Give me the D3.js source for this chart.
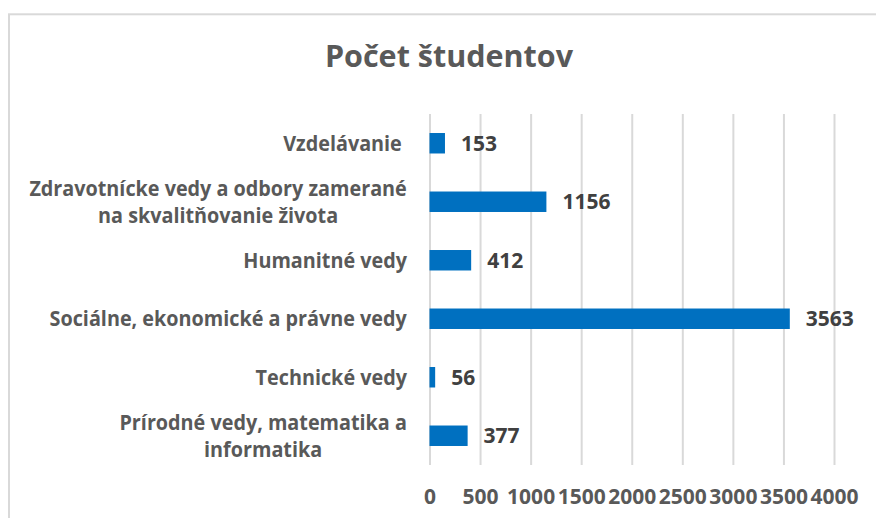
<!DOCTYPE html>
<html>
<head>
<meta charset="utf-8">
<script src="https://cdn.jsdelivr.net/npm/d3@7"></script>
<style>
  html, body { margin: 0; padding: 0; background: #fff; }
  svg { display: block; }
  text { font-family: "Open Sans", "Noto Sans", sans-serif; font-weight: 700; }
</style>
</head>
<body>
<svg id="chart" width="876" height="518"></svg>
<script>
// ---- data (top to bottom as displayed) ----
const title = "Počet študentov";
const categories = [
  ["Vzdelávanie "],
  ["Zdravotnícke vedy a odbory zamerané", "na skvalitňovanie života"],
  ["Humanitné vedy"],
  ["Sociálne, ekonomické a právne vedy"],
  ["Technické vedy"],
  ["Prírodné vedy, matematika a", "informatika"]
];
const values = [153, 1156, 412, 3563, 56, 377];
const tickValues = [0, 500, 1000, 1500, 2000, 2500, 3000, 3500, 4000];

// ---- layout ----
const plot = { left: 429.5, right: 834, top: 114, bottom: 465 };
const svg = d3.select("#chart");

// chart area border
svg.append("rect")
  .attr("x", 9).attr("y", 14.3)
  .attr("width", 1000).attr("height", 1000)
  .attr("fill", "#fff")
  .attr("stroke", "#d9d9d9").attr("stroke-width", 2);

// title
svg.append("text")
  .attr("x", 449).attr("y", 67)
  .attr("text-anchor", "middle")
  .attr("fill", "#595959")
  .attr("font-size", 30.5)
  .text(title);

const x = d3.scaleLinear().domain([0, 4000]).range([plot.left, plot.right]);
const y = d3.scaleBand()
  .domain(d3.range(categories.length))
  .range([plot.top, plot.bottom])
  .paddingInner(0.65).paddingOuter(0.325);

// gridlines + tick labels via axis
const axis = d3.axisBottom(x).tickValues(tickValues)
  .tickSize(-(plot.bottom - plot.top)).tickPadding(0).tickFormat(d3.format("d"));
const gAxis = svg.append("g").attr("transform", `translate(0,${plot.bottom})`).call(axis);
gAxis.select(".domain").remove();
gAxis.selectAll(".tick line").attr("stroke", "#d9d9d9").attr("stroke-width", 2);
gAxis.selectAll(".tick text")
  .attr("y", 39).attr("dy", null)
  .attr("fill", "#595959")
  .attr("font-size", 21)
  .attr("font-family", "\"Open Sans\", sans-serif")
  .attr("font-weight", 700);

// bars
svg.append("g").selectAll("rect")
  .data(values)
  .join("rect")
  .attr("x", x(0))
  .attr("y", (d, i) => y(i))
  .attr("width", d => x(d) - x(0))
  .attr("height", y.bandwidth())
  .attr("fill", "#0070C0");

// value labels
svg.append("g").selectAll("text")
  .data(values)
  .join("text")
  .attr("x", d => x(d) + 16)
  .attr("y", (d, i) => y(i) + y.bandwidth() / 2 + 7.5)
  .attr("fill", "#404040")
  .attr("font-size", 21)
  .text(d => d);

// category labels (one text per category, lines as tspans, slightly condensed)
const lineH = 27;
const labelRight = 407;
const squeeze = 0.9;
const gLab = svg.append("g");
categories.forEach((lines, i) => {
  const cy = y(i) + y.bandwidth() / 2;
  const n = lines.length;
  const g = gLab.append("g");
  const t = g.append("text")
    .attr("fill", "#595959")
    .attr("font-size", 22)
    .attr("text-anchor", "middle")
    .style("white-space", "pre");
  const spans = lines.map((ln, j) => t.append("tspan")
    .attr("x", 0)
    .attr("y", 7.5 + (j - (n - 1) / 2) * lineH)
    .text(ln));
  const maxW = d3.max(spans, s => s.node().getComputedTextLength()) * squeeze;
  g.attr("transform", `translate(${labelRight - maxW / 2},${cy}) scale(${squeeze},1)`);
});
</script>
</body>
</html>
